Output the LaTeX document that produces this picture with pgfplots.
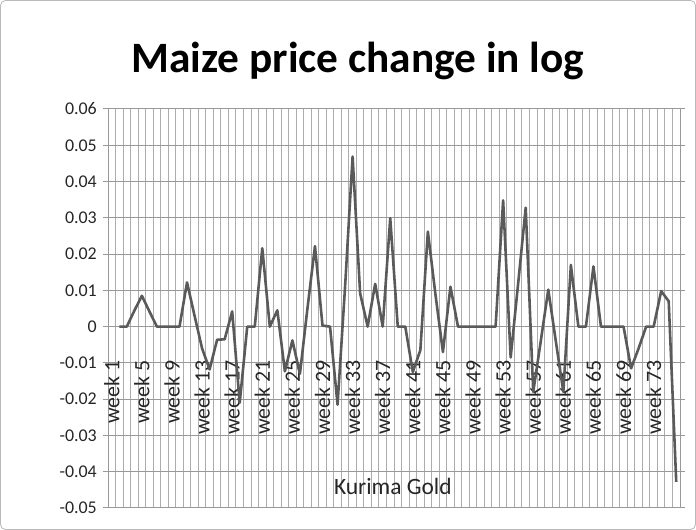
\documentclass[border=0pt]{standalone}
\usepackage{fontspec}
\setmainfont{Carlito}
\usepackage{pgfplots}
\pgfplotsset{compat=1.18}
\usepackage{pgfplotstable}
\definecolor{linegray}{HTML}{5A5A5A}
\definecolor{hgrid}{HTML}{999999}
\definecolor{vgrid}{HTML}{ADADAD}
\definecolor{txt}{HTML}{262626}
\pgfplotstableread{
week val
2 0
3 0
4 0.0044
5 0.0085
6 0.0042
7 0
8 0
9 0
10 0
11 0.0122
12 0.003
13 -0.006
14 -0.0118
15 -0.0036
16 -0.0035
17 0.0042
18 -0.021
19 0
20 0
21 0.0216
22 0
23 0.0045
24 -0.0123
25 -0.0038
26 -0.013
27 0.005
28 0.0222
29 0.0003
30 0
31 -0.0215
32 0.011
33 0.0469
34 0.0092
35 0
36 0.0118
37 0
38 0.0299
39 0
40 0
41 -0.0125
42 -0.0065
43 0.0262
44 0.009
45 -0.007
46 0.011
47 0
48 0
49 0
50 0
51 0
52 0
53 0.0348
54 -0.0085
55 0.012
56 0.0328
57 -0.018
58 -0.004
59 0.0102
60 -0.004
61 -0.018
62 0.017
63 0
64 0
65 0.0166
66 0
67 0
68 0
69 0
70 -0.0115
71 -0.006
72 0
73 0
74 0.0098
75 0.007
76 -0.0428
}\datatable
\begin{document}
\begin{tikzpicture}
\useasboundingbox (0,0) rectangle (696bp,530bp);
\draw[gray!55, line width=0.8bp, rounded corners=5bp] (0.5bp,0.5bp) rectangle (695.5bp,529.5bp);
\node[font=\fontsize{43.5}{48}\selectfont\bfseries, text=black, anchor=base] at (358bp,457bp) {Maize price change in log};
\begin{axis}[
  at={(108bp,22bp)}, anchor=south west,
  width=572bp, height=399bp, scale only axis,
  xmin=0.5, xmax=76.5,
  ymin=-0.05, ymax=0.06,
  scaled y ticks=false,
  ytick={-0.05,-0.04,-0.03,-0.02,-0.01,0,0.01,0.02,0.03,0.04,0.05,0.06},
  yticklabels={-0.05,-0.04,-0.03,-0.02,-0.01,0,0.01,0.02,0.03,0.04,0.05,0.06},
  xtick={1,5,9,13,17,21,25,29,33,37,41,45,49,53,57,61,65,69,73},
  xticklabels={week 1,week 5,week 9,week 13,week 17,week 21,week 25,week 29,week 33,week 37,week 41,week 45,week 49,week 53,week 57,week 61,week 65,week 69,week 73},
  minor xtick={0.5,1.5,...,76.5},
  xminorgrids=true, xmajorgrids=false, ymajorgrids=true,
  minor x grid style={vgrid, line width=1bp},
  major y grid style={hgrid, line width=1bp},
  axis line style={hgrid, line width=1bp},
  x tick style={draw=none},
  minor x tick style={draw=none},
  y tick style={hgrid, line width=1bp},
  tick align=outside, major tick length=5bp,
  yticklabel style={font=\fontsize{18}{20}\selectfont, text=txt, anchor=east, inner sep=0pt, xshift=-6bp},
  xticklabel style={font=\fontsize{22}{24}\selectfont, text=txt, yshift=153bp, rotate=90, anchor=east, inner sep=0pt},
  clip=false,
]
\addplot[color=linegray, line width=2.6bp, line join=round] table[x=week, y=val] {\datatable};
\node[font=\fontsize{23.5}{26}\selectfont, text=txt] at (rel axis cs:0.498,0.053) {Kurima Gold};
\end{axis}
\end{tikzpicture}
\end{document}
